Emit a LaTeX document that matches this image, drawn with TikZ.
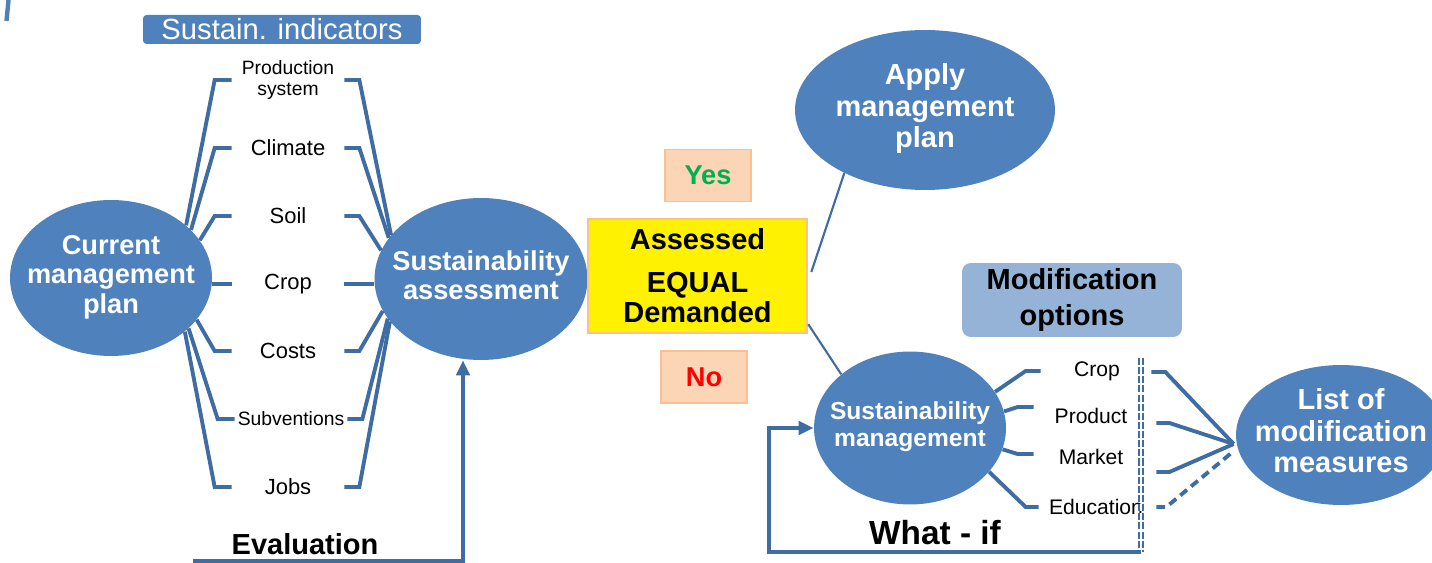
\documentclass[tikz,border=0pt]{standalone}
\usepackage{fontspec}
\setmainfont{Liberation Sans}
\usetikzlibrary{shapes.geometric,arrows.meta}

\definecolor{plainblue}{HTML}{4F81BD}
\definecolor{wireblue}{HTML}{3F6DA3}
\definecolor{optblue}{HTML}{95B3D7}
\definecolor{peach}{HTML}{FBD5B5}
\definecolor{peachline}{HTML}{FAC090}
\definecolor{yesgreen}{HTML}{00B050}

\newcommand{\fs}[2]{\fontsize{#1}{#2}\selectfont}
\newcommand{\zw}[1]{\makebox[0pt]{\begin{tabular}{@{}c@{}}#1\end{tabular}}}

\tikzset{
  bubble/.style={ellipse, fill=plainblue, inner sep=0pt, text=white},
  indic/.style={inner sep=0pt, minimum width=2.24cm, align=center, font=\fs{12.5}{14}},
  option/.style={inner sep=0pt, minimum width=2cm, align=center, font=\fs{12}{14}},
  answer/.style={fill=peach, draw=peachline, line width=1pt, minimum width=1.72cm, minimum height=1.04cm, font=\bfseries\fs{15.5}{17}},
  wire/.style={draw=wireblue, line width=2.2pt},
  thin wire/.style={draw=wireblue, line width=1.2pt},
  arr/.style={wire, -{Triangle[length=8.5pt,width=7.5pt]}}
}

\begin{document}
\begin{tikzpicture}[x=0.02cm,y=-0.02cm]
  \useasboundingbox (0,0) rectangle (1432,563);

  % Corner mark
  \draw[plainblue,line width=2.5pt] (8.5,0) -- (6.5,21);

  % Assessment side
  \node[fill=plainblue,rounded corners=2pt,minimum width=5.56cm,minimum height=0.58cm,inner sep=0pt,text=white,font=\fs{16.6}{18}] (title) at (282,29.5) {Sustain. indicators};
  \node[bubble,minimum width=4.04cm,minimum height=3.12cm,font=\bfseries\fs{15.5}{17}] (cur) at (111,278) {\zw{Current\\management\\plan}};
  \node[bubble,minimum width=4.26cm,minimum height=3.24cm,font=\bfseries\fs{15.5}{17}] (sa) at (481,279) {\zw{Sustainability\\assessment}};

  % Indicators
  \node[indic,font=\fs{11}{11.4}] (prod) at (288,80) {Production\\system};
  \node[indic] (clim) at (288,148) {Climate};
  \node[indic] (soil) at (288,216) {Soil};
  \node[indic] (crop) at (288,284) {Crop};
  \node[indic] (cost) at (288,351) {Costs};
  \node[indic,font=\fs{11}{13}] (subv) at (291,419) {Subventions};
  \node[indic] (jobs) at (288,487) {Jobs};

  % Indicator links
  \draw[wire] (prod.west) -- ++(-17,0) -- (cur.35);
  \draw[wire] (clim.west) -- ++(-17,0) -- (cur.31);
  \draw[wire] (soil.west) -- ++(-17,0) -- (cur.23);
  \draw[wire] (crop.west) -- (crop.west -| cur.east);
  \draw[wire] (cost.west) -- ++(-17,0) -- (cur.-26);
  \draw[wire] (subv.west) -- ++(-17,0) -- (cur.-33);
  \draw[wire] (jobs.west) -- ++(-17,0) -- (cur.-36);
  \draw[wire] (prod.east) -- ++(15,0) -- (sa.154);
  \draw[wire] (clim.east) -- ++(15,0) -- (sa.156);
  \draw[wire] (soil.east) -- ++(15,0) -- (sa.164);
  \draw[wire] (crop.east) -- (crop.east -| sa.west);
  \draw[wire] (cost.east) -- ++(15,0) -- (sa.198);
  \draw[wire] (subv.east) -- ++(15,0) -- (sa.203);
  \draw[wire] (jobs.east) -- ++(15,0) -- (sa.205);

  % Evaluation loop
  \coordinate (evalstart) at (193,561);
  \node[font=\bfseries\fs{16.5}{18}] (eval) at (305,544) {Evaluation};
  \draw[arr] (evalstart) -| ([xshift=-0.36cm]sa.south);

  % Decision
  \node[fill=yellow,draw=peachline,line width=1.5pt,minimum width=4.38cm,minimum height=2.28cm,align=center,font=\bfseries\fs{16.5}{17}] (asd) at (697.5,276) {Assessed\\[7.5pt]EQUAL\\Demanded};
  \node[answer,text=yesgreen] (yes) at (708,175.5) {Yes};
  \node[answer,text=red] (no) at (704,377) {No};
  \node[bubble,minimum width=5.2cm,minimum height=3.2cm,font=\bfseries\fs{16.5}{18}] (apply) at (925,110) {\zw{Apply\\management\\plan}};
  \node[bubble,minimum width=3.84cm,minimum height=3.06cm,font=\bfseries\fs{14}{15.4}] (sm) at (910,428) {\zw{Sustainability\\management}};
  \draw[thin wire] ([shift={(3,-4)}]asd.east) -- (apply.218);
  \draw[thin wire] ([shift={(0,-10)}]asd.south east) -- (sm.142);

  % Modification options
  \node[fill=optblue,rounded corners=5pt,minimum width=4.4cm,minimum height=1.48cm,inner sep=0pt,align=center,font=\bfseries\fs{16.5}{20.5}] (modopt) at (1072,300) {Modification\\options};
  \node[option] (mcrop) at (1097,371) {Crop};
  \node[option] (mprod) at (1091,416) {Product};
  \node[option] (mmark) at (1091,457) {Market};
  \node[option] (medu) at (1096,507) {Education};
  \node[bubble,minimum width=4.2cm,minimum height=2.8cm,font=\bfseries\fs{16.5}{18}] (list) at (1341,435) {\zw{List of\\modification\\measures}};

  % Option links
  \draw[wire] ([xshift=-0.12cm]mcrop.west) -- ++(-15,0) -- (sm.23);
  \draw[wire] ([shift={(-7,-9)}]mprod.west) -- ++(-16,0) -- (sm.10);
  \draw[wire] ([shift={(-7,-3)}]mmark.west) -- ++(-16,0) -- (sm.-13);
  \draw[wire] ([xshift=-0.14cm]medu.west) -- ++(-13,0) -- (sm.-29);
  \coordinate (hub) at ([shift={(-2,9)}]list.west);
  \draw[wire] ([shift={(4,1)}]mcrop.east) -- ++(14,0) -- (hub);
  \draw[wire] ([shift={(15,7)}]mprod.east) -- ++(13,0) -- (hub);
  \draw[wire] ([shift={(15,15)}]mmark.east) -- ++(13,0) -- (hub);
  \draw[wire,dash pattern=on 5pt off 3pt] ([xshift=0.2cm]medu.east) -- ++(10,0) -- ([shift={(0,7)}]hub);

  % What-if loop
  \coordinate (vtop) at (1141,358);
  \coordinate (vbot) at (1141,552);
  \draw[draw=wireblue,double,line width=1pt,double distance=1.5pt,dash pattern=on 4pt off 1.2pt] (vtop) -- (vbot);
  \draw[arr] (vbot) -- ++(-372,0) |- (sm.west);
  \node[font=\bfseries\fs{19}{21}] (whatif) at (935,533) {What - if};
\end{tikzpicture}
\end{document}
